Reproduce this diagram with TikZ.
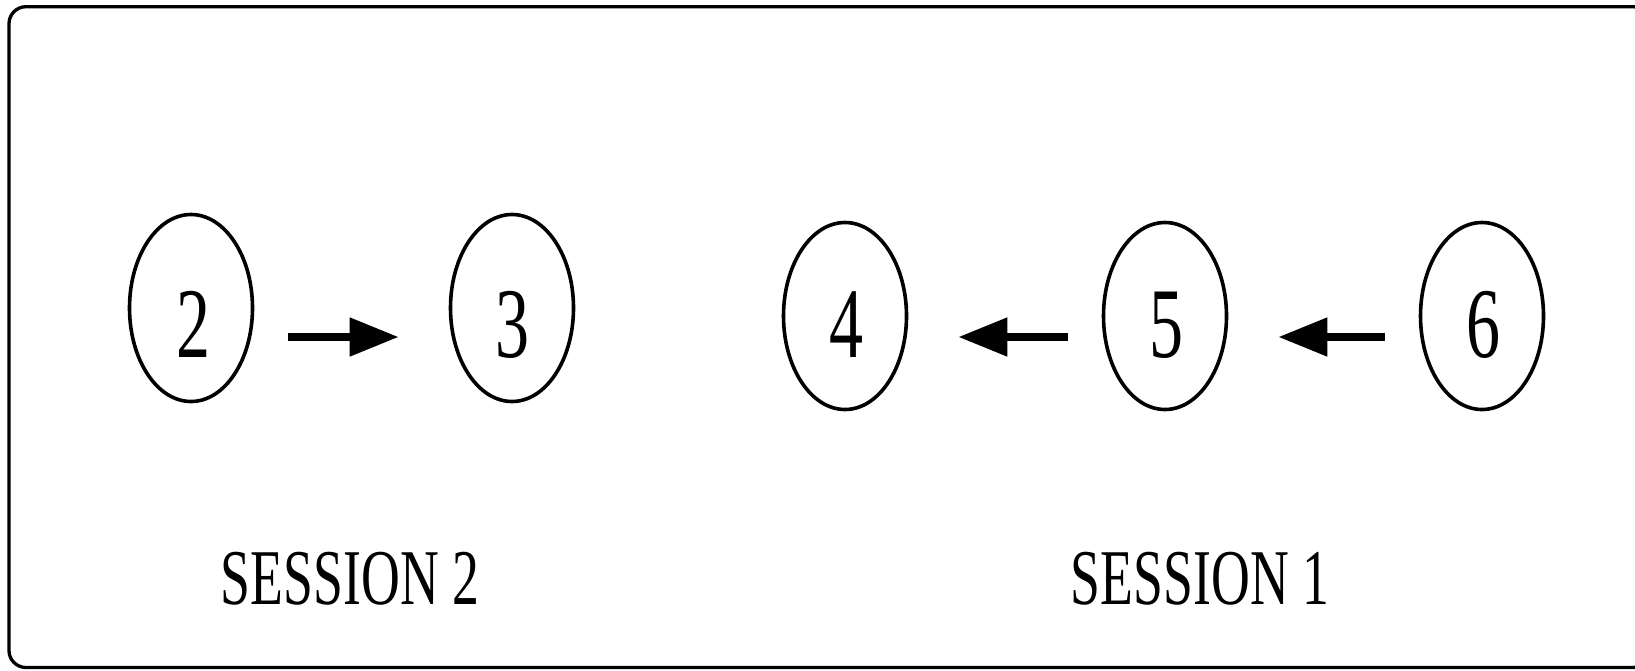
\documentclass[tikz,border=0pt]{standalone}
\usepackage{fontspec}
\setmainfont{Liberation Serif}
\usetikzlibrary{arrows.meta,shapes.geometric}
\tikzset{
  frame/.style={line width=3.3pt, rounded corners=17pt},
  oval/.style={ellipse, draw, line width=3.6pt, minimum width=123pt,
    minimum height=187pt, inner sep=0pt},
  num/.style={anchor=base, inner sep=0pt,
    font=\fontsize{100}{100}\selectfont},
  caption/.style={anchor=base, inner sep=0pt,
    font=\fontsize{79}{79}\selectfont},
  flow/.style={line width=8pt, -{Triangle[length=49pt,width=37pt]},
    shorten <=34pt, shorten >=50pt}
}
\newcommand{\narrow}[1]{\scalebox{0.68}[1]{#1}}
\begin{document}
\begin{tikzpicture}[x=1pt, y=-1pt]
  \useasboundingbox (0,0) rectangle (1635,670);
  \clip (0,0) rectangle (1635,670);
  % outer frame (runs off the right edge)
  \draw[frame] (9,6.7) rectangle (1650,667.5);

  % session 2 ovals
  \node[oval] (e2) at (191,308) {};
  \node[oval] (e3) at (512,308) {};
  % session 1 ovals
  \node[oval] (e4) at (845,316) {};
  \node[oval] (e5) at (1165,316) {};
  \node[oval] (e6) at (1482,316) {};

  % numbers
  \node[num] (n2) at (193,357) {\narrow{2}};
  \node[num] (n3) at (512,357) {\narrow{3}};
  \node[num] (n4) at (846,357) {\narrow{4}};
  \node[num] (n5) at (1166,357) {\narrow{5}};
  \node[num] (n6) at (1483,357) {\narrow{6}};

  % arrows
  \draw[flow] ([yshift=-29pt]e2.east) -- ([yshift=-29pt]e3.west);
  \draw[flow] ([yshift=-21pt]e5.west) -- ([yshift=-21pt]e4.east);
  \draw[flow] ([yshift=-21pt]e6.west) -- ([yshift=-21pt]e5.east);

  % captions
  \node[caption] (s2) at (350,604) {\narrow{SESSION 2}};
  \node[caption] (s1) at (1200,604) {\narrow{SESSION 1}};
\end{tikzpicture}
\end{document}
